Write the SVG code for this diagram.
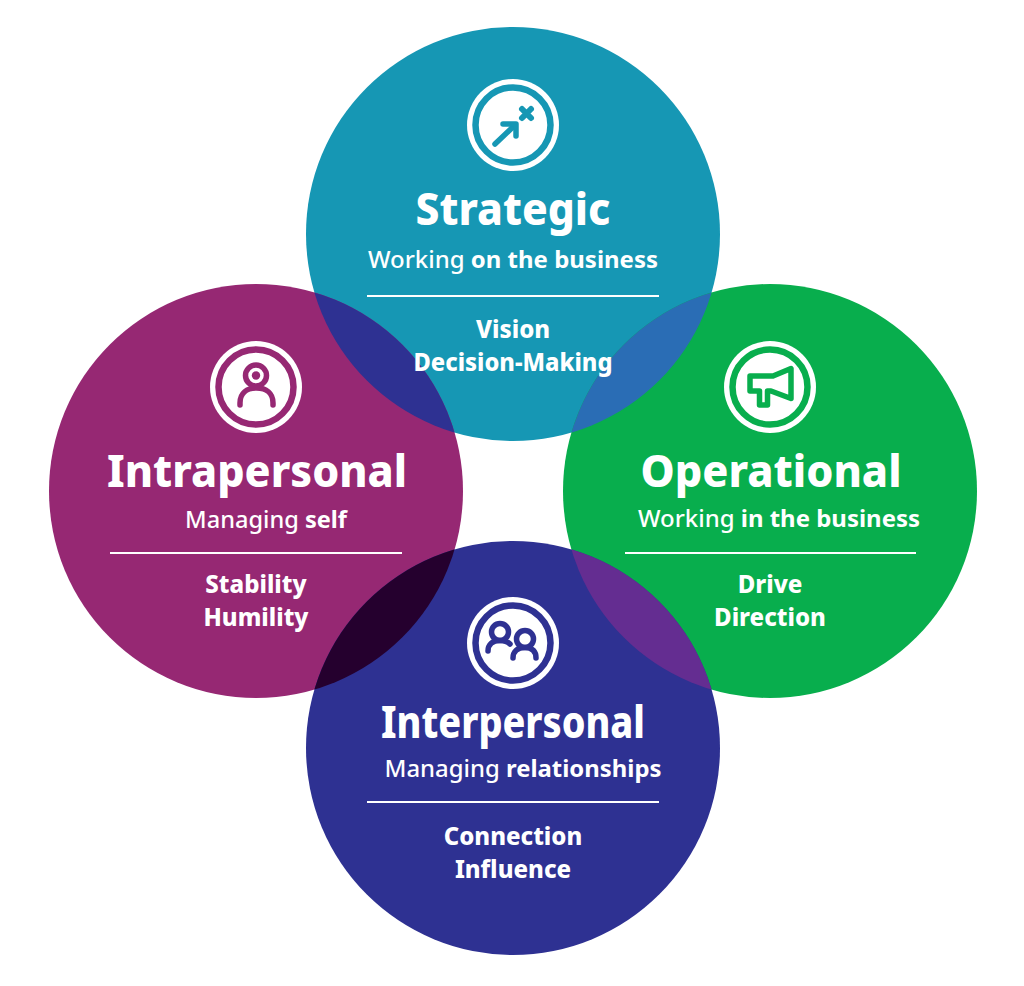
<svg xmlns="http://www.w3.org/2000/svg" width="1024" height="986" viewBox="0 0 1024 986">
<style>
text{font-family:"Noto Sans","Open Sans","Liberation Sans",sans-serif;fill:#fff;text-anchor:middle}
.t{font-size:44px;font-weight:800}
.s{font-size:24px;font-weight:500}
.s tspan{font-weight:700}
.i{font-size:24px;font-weight:800}
.r{stroke:#fff;stroke-width:2}
.g{fill:none;stroke-width:6.5}
.k{fill:none;stroke-width:5.5;stroke-linecap:round;stroke-linejoin:round}
</style>
<defs>
<clipPath id="cT"><circle cx="513" cy="234" r="207"/></clipPath>
<clipPath id="cB"><circle cx="513" cy="748" r="207"/></clipPath>
</defs>
<rect width="1024" height="986" fill="#fff"/>
<g id="overlaps-base">
<circle cx="513" cy="234" r="207" fill="#1697b4"/>
<circle cx="256" cy="491" r="207" fill="#962873"/>
<circle cx="770" cy="491" r="207" fill="#08ae4d"/>
<circle cx="513" cy="748" r="207" fill="#2e3192"/>
<circle cx="256" cy="491" r="207" fill="#2e3192" clip-path="url(#cT)"/>
<circle cx="770" cy="491" r="207" fill="#2a6db5" clip-path="url(#cT)"/>
<circle cx="256" cy="491" r="207" fill="#25002e" clip-path="url(#cB)"/>
<circle cx="770" cy="491" r="207" fill="#642d91" clip-path="url(#cB)"/>
</g>
<g id="strategic">
<circle cx="513" cy="125" r="46" fill="#fff"/><circle class="g" cx="513" cy="125" r="37.5" stroke="#1697b4"/>
<g class="k" stroke="#1697b4"><path d="M495 144L515 125"/><path d="M503 124H516V136"/><path d="M522 109L531 118M531 109L522 118" stroke-width="6"/></g>
<text class="t" x="513" y="225" textLength="195" lengthAdjust="spacingAndGlyphs">Strategic</text>
<text class="s" x="513" y="268" textLength="290" lengthAdjust="spacingAndGlyphs">Working <tspan>on the business</tspan></text>
<line class="r" x1="367" y1="296" x2="659" y2="296"/>
<text class="i" x="513" y="338">Vision</text>
<text class="i" x="513" y="371" textLength="199" lengthAdjust="spacingAndGlyphs">Decision-Making</text>
</g>
<g id="intrapersonal">
<circle cx="256" cy="387" r="46" fill="#fff"/><circle class="g" cx="256" cy="387" r="37.5" stroke="#962873"/>
<g class="k" stroke="#962873"><circle cx="256" cy="375.500" r="10.500"/><path d="M240 405V403C240 393 247 388 256.500 388S273 393 273 403V405"/></g>
<circle cx="256" cy="375.500" r="4.200" fill="#962873"/>
<text class="t" x="257" y="487" textLength="300" lengthAdjust="spacingAndGlyphs">Intrapersonal</text>
<text class="s" x="266" y="528" textLength="162" lengthAdjust="spacingAndGlyphs">Managing <tspan>self</tspan></text>
<line class="r" x1="110" y1="553" x2="402" y2="553"/>
<text class="i" x="256" y="593">Stability</text>
<text class="i" x="256" y="626">Humility</text>
</g>
<g id="operational">
<circle cx="770" cy="387" r="46" fill="#fff"/><circle class="g" cx="770" cy="387" r="37.500" stroke="#08ae4d"/>
<path class="k" stroke="#08ae4d" d="M750 376H773L791 368.500V398.500L771 391H767.500V405H759.500V391H750Z"/>
<text class="t" x="771" y="487" textLength="261" lengthAdjust="spacingAndGlyphs">Operational</text>
<text class="s" x="779" y="527" textLength="282" lengthAdjust="spacingAndGlyphs">Working <tspan>in the business</tspan></text>
<line class="r" x1="625" y1="553" x2="916" y2="553"/>
<text class="i" x="770" y="593">Drive</text>
<text class="i" x="770" y="626">Direction</text>
</g>
<g id="interpersonal">
<circle cx="513" cy="643" r="46" fill="#fff"/><circle class="g" cx="513" cy="643" r="37.500" stroke="#2e3192"/>
<g class="k" stroke="#2e3192"><circle cx="500" cy="632" r="8.500"/><path d="M488 651C488 645 492 640.500 500 640.500C505 640.500 508 642 510 644"/><circle cx="525" cy="639" r="8.500"/><path d="M513 658C513 652 517 647.500 525 647.500S536 652 536 658"/></g>
<text class="t" x="513" y="738" textLength="264" lengthAdjust="spacingAndGlyphs">Interpersonal</text>
<text class="s" x="523" y="777" textLength="277" lengthAdjust="spacingAndGlyphs">Managing <tspan>relationships</tspan></text>
<line class="r" x1="367" y1="802" x2="659" y2="802"/>
<text class="i" x="513" y="845">Connection</text>
<text class="i" x="513" y="878">Influence</text>
</g>
</svg>
